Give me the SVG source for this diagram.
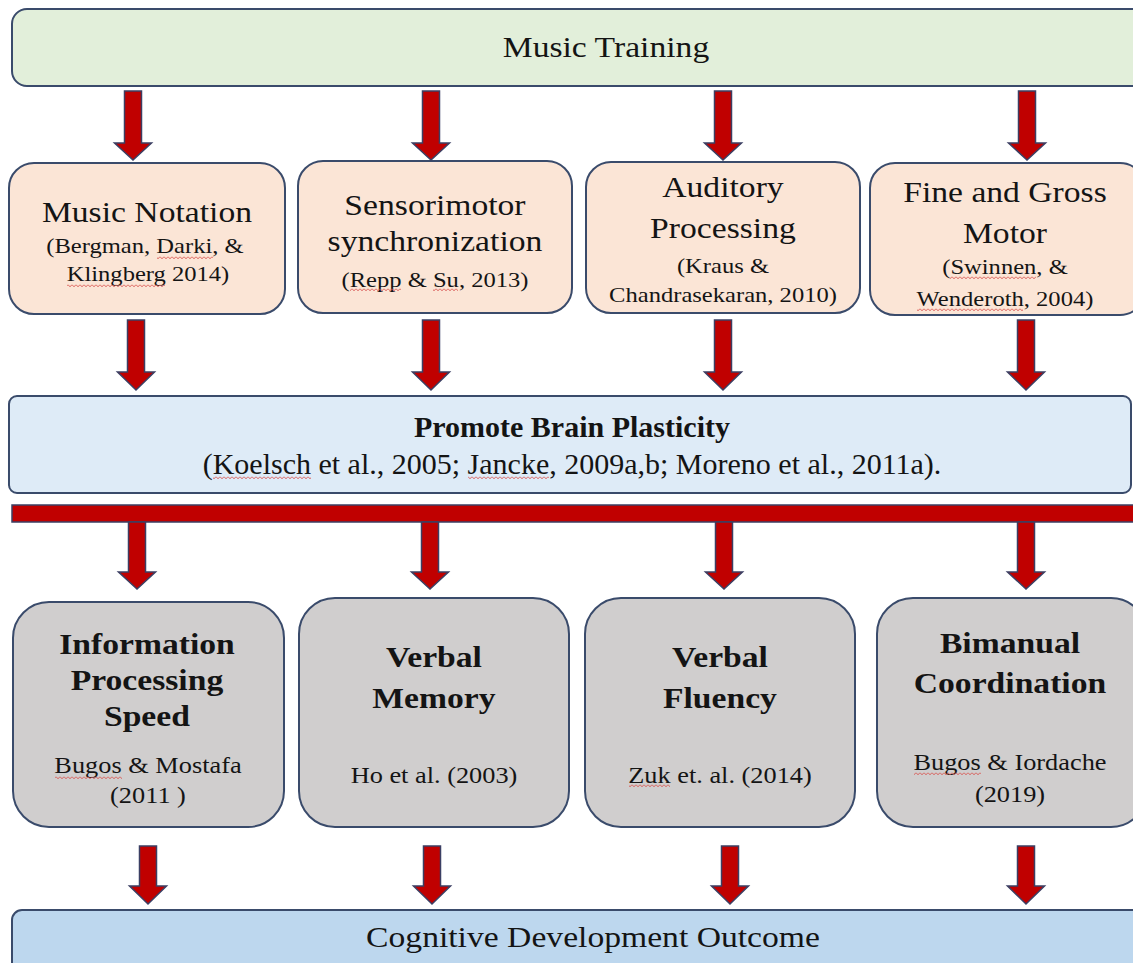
<svg xmlns="http://www.w3.org/2000/svg" width="1133" height="963" viewBox="0 0 1133 963">
<style>
.box{stroke:#3a4b6b;stroke-width:2}
.green{fill:#e2efda}
.peach{fill:#fbe5d6}
.blue{fill:#deebf7}
.gray{fill:#d0cece}
.blue2{fill:#bdd7ee}
.arr{fill:#c00000;stroke:#3b3f63;stroke-width:1.5;stroke-linejoin:miter}
.wv{fill:url(#wave)}
text{font-family:"Liberation Serif","Times New Roman",serif;fill:#141414;text-anchor:middle}
.st{transform:scaleX(1.16);transform-box:fill-box;transform-origin:center}
.h{font-size:29px}
.hb{font-size:29px;font-weight:bold}
.c{font-size:21.2px}
.cg{font-size:22.7px}
.p{font-size:30px}
.pb{font-size:30px;font-weight:bold}
</style>
<defs>
<pattern id="wave" x="0" y="0" width="4" height="4" patternUnits="userSpaceOnUse">
<path d="M0,0.6 L2,2.8 L4,0.6" fill="none" stroke="#d9534f" stroke-width="0.9"/>
</pattern>
</defs>
<g id="music-training">
<rect class="box green" x="12" y="9" width="1150" height="77" rx="15"/>
<text class="h st" x="606" y="57">Music Training</text>
</g>
<g id="music-notation">
<rect class="box peach" x="9" y="163" width="276" height="151" rx="25"/>
<text class="h st" x="147" y="222">Music Notation</text>
<text class="c st" x="145" y="253">(Bergman, Darki, &amp;</text>
<text class="c st" x="148" y="281">Klingberg 2014)</text>
<rect class="wv" x="157" y="256" width="56" height="4"/>
<rect class="wv" x="67" y="284" width="98" height="4"/>
</g>
<g id="sensorimotor">
<rect class="box peach" x="298" y="161" width="274" height="152" rx="25"/>
<text class="h st" x="435" y="215">Sensorimotor</text>
<text class="h st" x="435" y="251">synchronization</text>
<text class="c st" x="435" y="287">(Repp &amp; Su, 2013)</text>
<rect class="wv" x="350" y="288" width="51" height="4"/>
<rect class="wv" x="433" y="288" width="25" height="4"/>
</g>
<g id="auditory">
<rect class="box peach" x="586" y="162" width="274" height="151" rx="25"/>
<text class="h st" x="723" y="197">Auditory</text>
<text class="h st" x="723" y="238">Processing</text>
<text class="c st" x="723" y="273">(Kraus &amp;</text>
<text class="c st" x="723" y="302">Chandrasekaran, 2010)</text>
</g>
<g id="motor">
<rect class="box peach" x="870" y="163" width="275" height="152" rx="25"/>
<text class="h st" x="1005" y="202">Fine and Gross</text>
<text class="h st" x="1005" y="243">Motor</text>
<text class="c st" x="1005" y="274">(Swinnen, &amp;</text>
<text class="c st" x="1005" y="306">Wenderoth, 2004)</text>
<rect class="wv" x="950" y="276" width="86" height="4"/>
<rect class="wv" x="917" y="308" width="106" height="4"/>
</g>
<g id="plasticity">
<rect class="box blue" x="9" y="396" width="1122" height="97" rx="8"/>
<text class="pb" x="572" y="437">Promote Brain Plasticity</text>
<text class="p" x="572" y="474">(Koelsch et al., 2005; Jancke, 2009a,b; Moreno et al., 2011a).</text>
<rect class="wv" x="213" y="476" width="98" height="4"/>
<rect class="wv" x="468" y="476" width="81" height="4"/>
</g>
<g id="info-speed">
<rect class="box gray" x="13" y="602" width="271" height="225" rx="36"/>
<text class="hb st" x="147" y="654">Information</text>
<text class="hb st" x="147" y="690">Processing</text>
<text class="hb st" x="147" y="726">Speed</text>
<text class="cg st" x="148" y="773">Bugos &amp; Mostafa</text>
<text class="cg st" x="148" y="803">(2011 )</text>
<rect class="wv" x="55" y="776" width="67" height="4"/>
</g>
<g id="verbal-memory">
<rect class="box gray" x="299" y="598" width="270" height="229" rx="36"/>
<text class="hb st" x="434" y="667">Verbal</text>
<text class="hb st" x="434" y="708">Memory</text>
<text class="cg st" x="434" y="783">Ho et al. (2003)</text>
</g>
<g id="verbal-fluency">
<rect class="box gray" x="585" y="598" width="270" height="229" rx="36"/>
<text class="hb st" x="720" y="667">Verbal</text>
<text class="hb st" x="720" y="708">Fluency</text>
<text class="cg st" x="720" y="783">Zuk et. al. (2014)</text>
<rect class="wv" x="629" y="784" width="41" height="4"/>
</g>
<g id="bimanual">
<rect class="box gray" x="877" y="598" width="270" height="229" rx="36"/>
<text class="hb st" x="1010" y="653">Bimanual</text>
<text class="hb st" x="1010" y="693">Coordination</text>
<text class="cg st" x="1010" y="770">Bugos &amp; Iordache</text>
<text class="cg st" x="1010" y="802">(2019)</text>
<rect class="wv" x="914" y="772" width="67" height="4"/>
</g>
<g id="outcome">
<rect class="box blue2" x="12" y="910" width="1150" height="80" rx="10"/>
<text class="h st" x="593" y="947">Cognitive Development Outcome</text>
</g>
<g id="connectors">
<polygon class="arr" points="124.5,91 141.5,91 141.5,143 151.5,143 133,160 114.5,143 124.5,143"/>
<polygon class="arr" points="422.5,91 439.5,91 439.5,143 449.5,143 431,160 412.5,143 422.5,143"/>
<polygon class="arr" points="714.5,91 731.5,91 731.5,143 741.5,143 723,160 704.5,143 714.5,143"/>
<polygon class="arr" points="1018.5,91 1035.5,91 1035.5,143 1045.5,143 1027,160 1008.5,143 1018.5,143"/>
<polygon class="arr" points="127.5,320 144.5,320 144.5,372 154.5,372 136,390 117.5,372 127.5,372"/>
<polygon class="arr" points="422.5,320 439.5,320 439.5,372 449.5,372 431,390 412.5,372 422.5,372"/>
<polygon class="arr" points="714.5,320 731.5,320 731.5,372 741.5,372 723,390 704.5,372 714.5,372"/>
<polygon class="arr" points="1017.5,320 1034.5,320 1034.5,372 1044.5,372 1026,390 1007.5,372 1017.5,372"/>
<rect class="arr" x="12" y="505" width="1135" height="17"/>
<polygon class="arr" points="128.5,522 145.5,522 145.5,572 155.5,572 137,589 118.5,572 128.5,572"/>
<polygon class="arr" points="421.5,522 438.5,522 438.5,572 448.5,572 430,589 411.5,572 421.5,572"/>
<polygon class="arr" points="715.5,522 732.5,522 732.5,572 742.5,572 724,589 705.5,572 715.5,572"/>
<polygon class="arr" points="1017.5,522 1034.5,522 1034.5,572 1044.5,572 1026,589 1007.5,572 1017.5,572"/>
<polygon class="arr" points="139.5,846 156.5,846 156.5,886 166.5,886 148,904 129.5,886 139.5,886"/>
<polygon class="arr" points="423.5,846 440.5,846 440.5,886 450.5,886 432,904 413.5,886 423.5,886"/>
<polygon class="arr" points="721.5,846 738.5,846 738.5,886 748.5,886 730,904 711.5,886 721.5,886"/>
<polygon class="arr" points="1017.5,846 1034.5,846 1034.5,886 1044.5,886 1026,904 1007.5,886 1017.5,886"/>
</g>
</svg>
